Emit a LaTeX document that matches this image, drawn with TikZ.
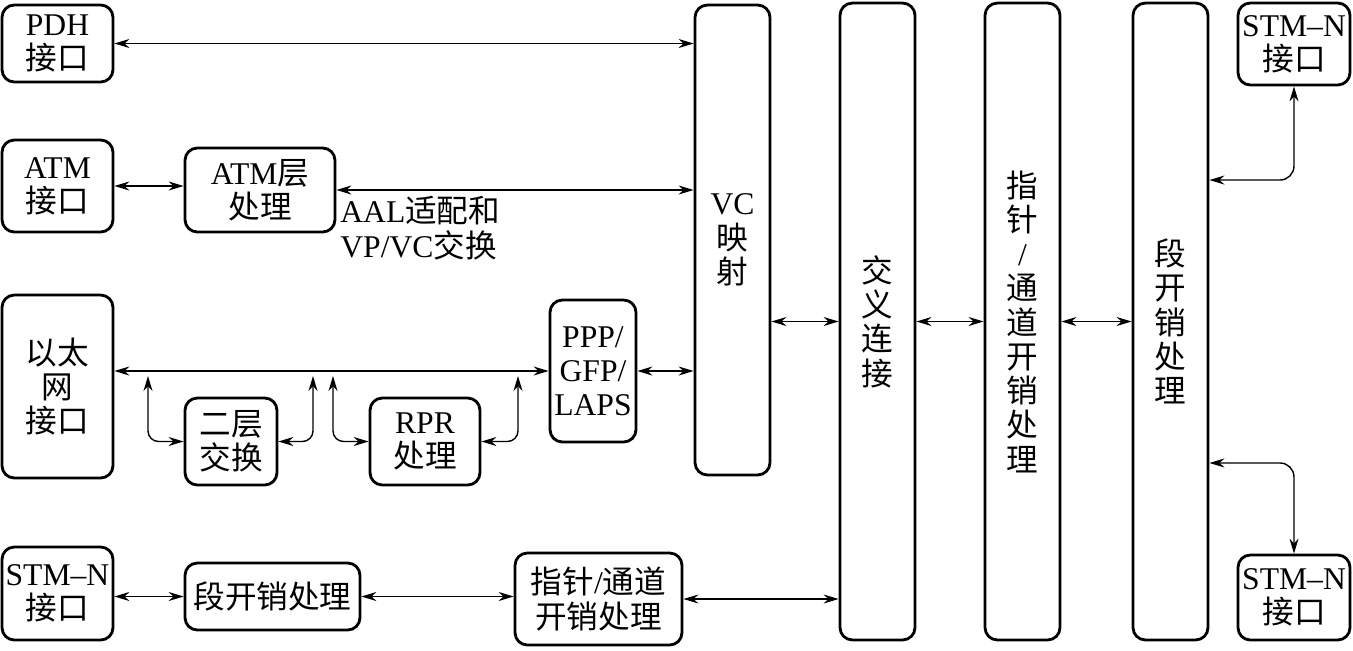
\documentclass[tikz,border=0pt]{standalone}
\usepackage{fontspec}
\setmainfont{Liberation Serif}
\newfontfamily\cjk{Noto Sans CJK SC}
\newcommand{\zh}[1]{{\cjk #1}}
\usepackage{tikz}
\usetikzlibrary{arrows.meta,positioning,calc}
\tikzset{
  blk/.style={rectangle,rounded corners=7pt,draw=black,line width=1.6pt,
              align=center,inner sep=2pt,font=\fontsize{18}{19.5}\selectfont},
  col/.style={blk,minimum width=1.5cm,minimum height=12.74cm},
  link/.style={{Stealth[length=3mm,width=1.8mm]}-{Stealth[length=3mm,width=1.8mm]},line width=0.8pt},
  note/.style={align=left,inner sep=0pt,font=\fontsize{18}{19.5}\selectfont},
}

\begin{document}
\begin{tikzpicture}[x=0.02cm,y=-0.02cm]
  \useasboundingbox (0,0) rectangle (1353,650);
  % left column
  \node[blk,minimum width=2.22cm,minimum height=1.54cm] (pdh) at (57.5,43.5) {PDH\\\zh{接口}};
  \node[blk,minimum width=2.22cm,minimum height=1.84cm] (atmif) at (57.5,186) {ATM\\\zh{接口}};
  \node[blk,minimum width=2.22cm,minimum height=3.66cm] (eth) at (57.5,386.5) {\zh{以太}\\\zh{网}\\\zh{接口}};
  \node[blk,minimum width=2.22cm,minimum height=1.86cm] (stmbl) at (57.5,593.5) {STM--N\\\zh{接口}};
  % middle boxes
  \node[blk,minimum width=3.0cm,minimum height=1.68cm] (atml) at (260,190) {ATM\zh{层}\\\zh{处理}};
  \node[note,anchor=west] (aal) at (340,228) {AAL\zh{适配和}\\VP/VC\zh{交换}};
  \node[blk,minimum width=1.84cm,minimum height=1.74cm] (l2) at (231,441.5) {\zh{二层}\\\zh{交换}};
  \node[blk,minimum width=2.2cm,minimum height=1.74cm] (rpr) at (425,441.5) {RPR\\\zh{处理}};
  \node[blk,minimum width=1.72cm,minimum height=2.84cm] (ppp) at (593,371) {PPP/\\GFP/\\LAPS};
  \node[blk,minimum width=3.5cm,minimum height=1.34cm] (secb) at (272.5,596.5) {\zh{段开销处理}};
  \node[blk,minimum width=3.34cm,minimum height=1.84cm] (ptrb) at (598.5,599) {\zh{指针}/\zh{通道}\\\zh{开销处理}};
  % tall columns
  \node[blk,minimum width=1.5cm,minimum height=9.4cm] (vcm) at (732.5,240) {VC\\\zh{映}\\\zh{射}};
  \node[col] (cross) at (877.5,321.5) {\zh{交}\\\zh{义}\\\zh{连}\\\zh{接}};
  \node[col] (ptr) at (1022.5,321.5) {\zh{指}\\\zh{针}\\/\\\zh{通}\\\zh{道}\\\zh{开}\\\zh{销}\\\zh{处}\\\zh{理}};
  \node[col] (sect) at (1170.5,321.5) {\zh{段}\\\zh{开}\\\zh{销}\\\zh{处}\\\zh{理}};
  % right interfaces
  \node[blk,minimum width=2.24cm,minimum height=1.64cm] (stmtr) at (1294,44) {STM--N\\\zh{接口}};
  \node[blk,minimum width=2.24cm,minimum height=1.7cm] (stmbr) at (1294,597.5) {STM--N\\\zh{接口}};

  % taps on the ethernet bus
  \coordinate (t1) at (148,376);
  \coordinate (t2) at (313,376);
  \coordinate (t3) at (333,376);
  \coordinate (t4) at (518,376);

  \draw[link] (pdh.east) -- (pdh.east-|vcm.west);
  \draw[link] (atmif.east) -- (atmif.east-|atml.west);
  \draw[link] (atml.east) -- (atml.east-|vcm.west);
  \draw[link] (eth.east|-ppp.west) -- (ppp.west);
  \draw[link,rounded corners=6pt] (t1) |- (l2.west);
  \draw[link,rounded corners=6pt] (l2.east) -| (t2);
  \draw[link,rounded corners=6pt] (t3) |- (rpr.west);
  \draw[link,rounded corners=6pt] (rpr.east) -| (t4);
  \draw[link] (ppp.east) -- (ppp.east-|vcm.west);
  \draw[link] (vcm.east|-cross.west) -- (cross.west);
  \draw[link] (cross.east) -- (ptr.west);
  \draw[link] (ptr.east) -- (sect.west);
  \draw[link,rounded corners=8pt] ([yshift=2.83cm]sect.east) -| (stmtr.south);
  \draw[link,rounded corners=8pt] ([yshift=-2.83cm]sect.east) -| (stmbr.north);
  \draw[link] (stmbl.east|-secb.west) -- (secb.west);
  \draw[link] (secb.east) -- (secb.east-|ptrb.west);
  \draw[link] (ptrb.east) -- (ptrb.east-|cross.west);
\end{tikzpicture}
\end{document}
